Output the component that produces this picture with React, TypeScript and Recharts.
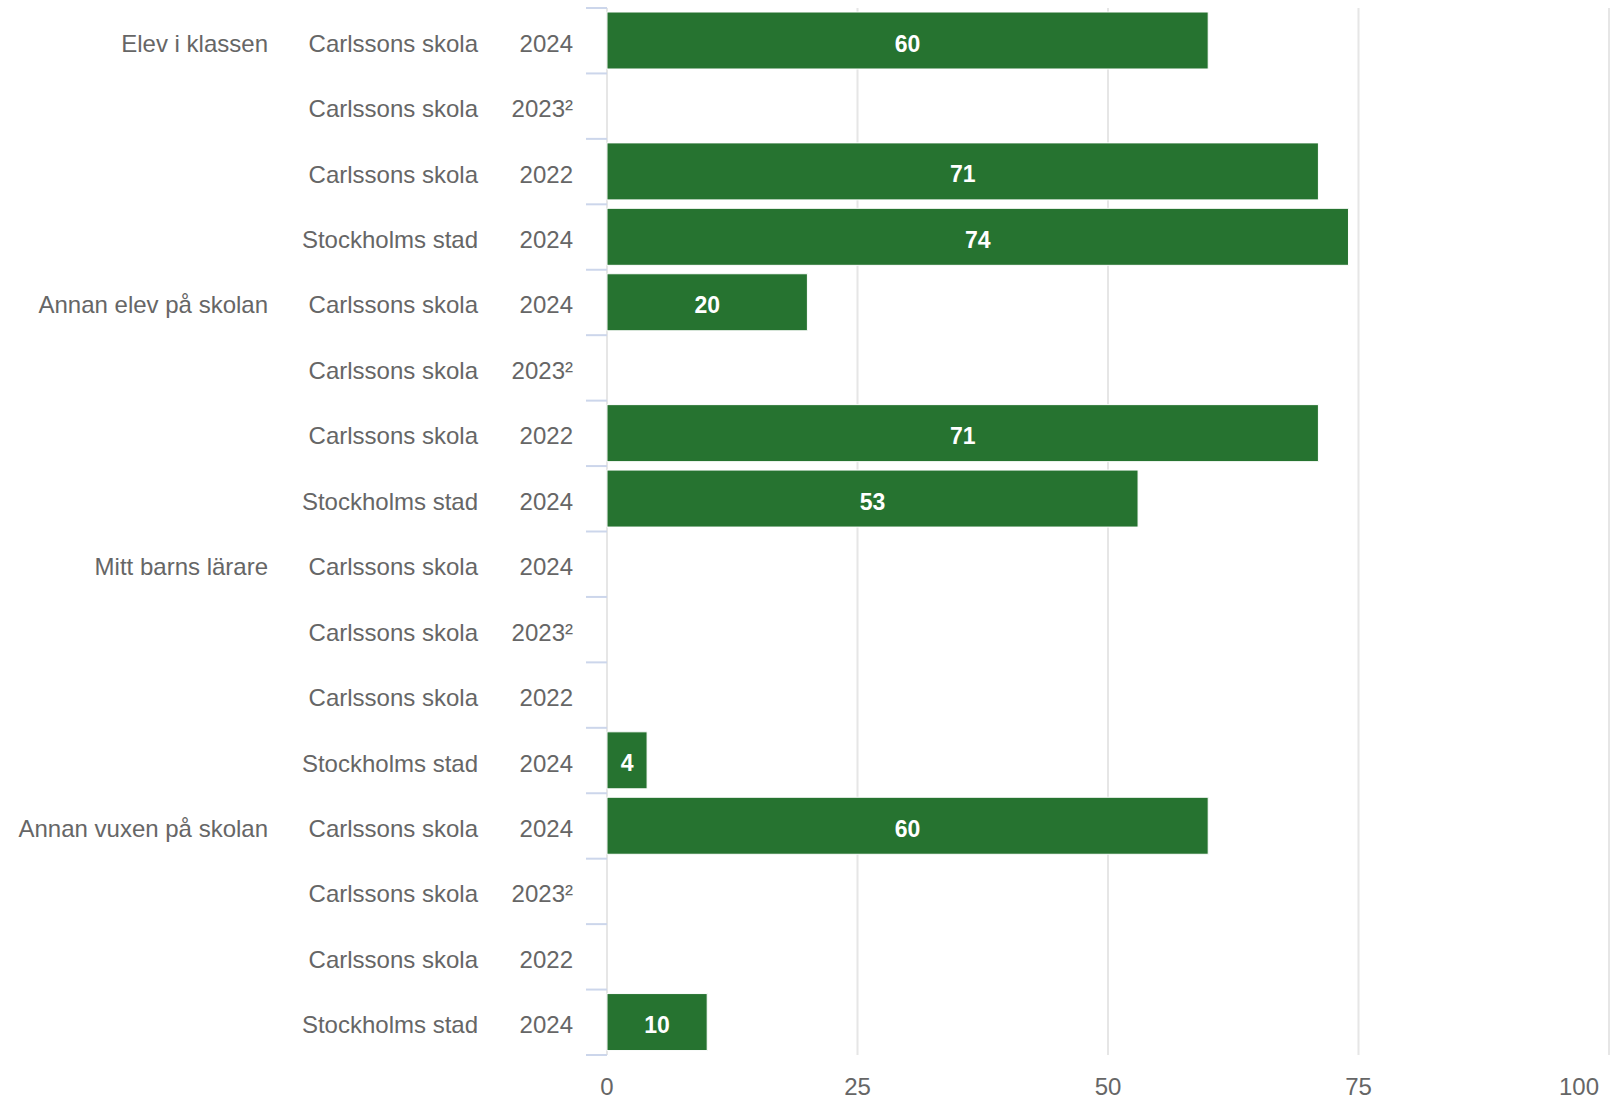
import { BarChart, Bar, XAxis, YAxis, CartesianGrid, LabelList } from 'recharts'

const groups = ['Elev i klassen', 'Annan elev på skolan', 'Mitt barns lärare', 'Annan vuxen på skolan']
const units = ['Carlssons skola', 'Carlssons skola', 'Carlssons skola', 'Stockholms stad']
const years = ['2024', '2023²', '2022', '2024']
const elevIKlassen = [60, null, 71, 74]
const annanElev = [20, null, 71, 53]
const mittBarnsLarare = [null, null, null, 4]
const annanVuxen = [60, null, null, 10]
const xTicks = [0, 25, 50, 75, 100]

const groupValues = [elevIKlassen, annanElev, mittBarnsLarare, annanVuxen]

const data = groups.flatMap((g, gi) =>
  units.map((u, ui) => ({
    key: `${gi}-${ui}`,
    group: ui === 0 ? g : '',
    unit: u,
    year: years[ui],
    value: groupValues[gi][ui],
  }))
)

const W = 1614
const H = 1100
const TOP = 8
const BOTTOM = 1055
const AXIS_X = 607
const ROW = (BOTTOM - TOP) / data.length
const FONT = '"Liberation Sans", Arial, Helvetica, sans-serif'
const GREEN = '#267330'

function CategoryTick(props: any) {
  const { y, index } = props
  const row = data[index]
  const top = y - ROW / 2
  const ty = y + 11
  return (
    <g>
      <line x1={AXIS_X - 21} x2={AXIS_X} y1={top} y2={top} stroke="#ccd6eb" strokeWidth={2} />
      {index === data.length - 1 && (
        <line x1={AXIS_X - 21} x2={AXIS_X} y1={top + ROW} y2={top + ROW} stroke="#ccd6eb" strokeWidth={2} />
      )}
      {row.group && (
        <text x={AXIS_X - 339} y={ty} textAnchor="end" fontSize={24} fill="#666" fontFamily={FONT}>
          {row.group}
        </text>
      )}
      <text x={AXIS_X - 129} y={ty} textAnchor="end" fontSize={24} fill="#666" fontFamily={FONT}>
        {row.unit}
      </text>
      <text x={AXIS_X - 34} y={ty} textAnchor="end" fontSize={24} fill="#666" fontFamily={FONT}>
        {row.year}
      </text>
    </g>
  )
}

function ValueTick(props: any) {
  const { x, payload, index } = props
  const last = index === xTicks.length - 1
  return (
    <text
      x={last ? x - 3 : x}
      y={1095}
      textAnchor={last ? 'end' : 'middle'}
      fontSize={24}
      fill="#666"
      fontFamily={FONT}
    >
      {payload.value}
    </text>
  )
}

function BarLabel(props: any) {
  const { x, y, width, height, value } = props
  if (value === null || value === undefined) return null
  return (
    <text
      x={x + width / 2}
      y={y + height / 2 + 11}
      textAnchor="middle"
      fontSize={23}
      fontWeight="bold"
      fill="#fff"
      fontFamily={FONT}
    >
      {value}
    </text>
  )
}

export default function App() {
  return (
    <div style={{ position: 'absolute', left: 0, top: 0, width: W, height: H, background: '#fff', fontFamily: FONT }}>
      <BarChart
        width={W}
        height={H}
        data={data}
        layout="vertical"
        margin={{ top: TOP, right: W - 1609, bottom: 0, left: 0 }}
        barSize={57}
      >
        <CartesianGrid horizontal={false} stroke="#e6e6e6" strokeWidth={2} />
        <XAxis
          type="number"
          domain={[0, 100]}
          ticks={xTicks}
          axisLine={false}
          tickLine={false}
          height={H - BOTTOM}
          tick={<ValueTick />}
        />
        <YAxis
          type="category"
          dataKey="key"
          width={AXIS_X}
          axisLine={false}
          tickLine={false}
          interval={0}
          tick={<CategoryTick />}
        />
        <Bar dataKey="value" fill={GREEN} stroke="#fff" strokeWidth={1} isAnimationActive={false}>
          <LabelList dataKey="value" content={<BarLabel />} />
        </Bar>
      </BarChart>
    </div>
  )
}
